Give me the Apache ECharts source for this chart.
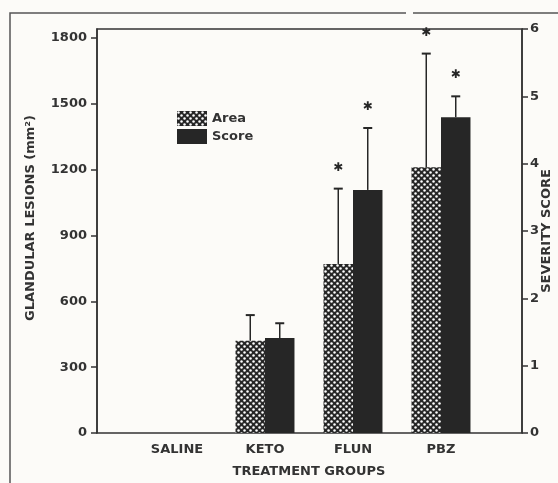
<!DOCTYPE html>
<html>
<head>
<meta charset="utf-8">
<script src="https://cdn.jsdelivr.net/npm/echarts@6/dist/echarts.min.js"></script>
<style>
  html, body { margin: 0; padding: 0; background: #fcfbf8; }
  #chart { width: 558px; height: 483px; }
</style>
</head>
<body>
<div id="chart"></div>
<script>
// values
const categories = ['SALINE', 'KETO', 'FLUN', 'PBZ'];
const areaMean = [0, 420, 770, 1210];
const areaErr = [0, 117, 343, 518];
const scoreMean = [0, 1.41, 3.61, 4.69];
const scoreErr = [0, 0.22, 0.92, 0.31];
const areaSig = [0, 0, 1, 1];
const scoreSig = [0, 0, 1, 1];
const leftMax = 1840;
const leftStep = 300;
const rightMax = 6;
const rightStep = 1;

const ink = '#262626';
const font = 'DejaVu Sans';
const catGap = 0.33;

// dotted crosshatch fill for the "Area" bars
function makeHatch() {
  const c = document.createElement('canvas');
  c.width = 6;
  c.height = 6;
  const ctx = c.getContext('2d');
  ctx.fillStyle = ink;
  ctx.fillRect(0, 0, 6, 6);
  ctx.fillStyle = '#fff';
  [[1.5, 1.5], [4.5, 4.5]].forEach(([x, y]) => {
    ctx.beginPath();
    ctx.arc(x, y, 1.25, 0, Math.PI * 2);
    ctx.fill();
  });
  return c;
}
const hatch = { image: makeHatch(), repeat: 'repeat' };

// upward error whisker + asterisk
function errorSeries(mean, err, sig, yIndex, side) {
  return {
    type: 'custom',
    xAxisIndex: 1,
    yAxisIndex: yIndex,
    z: 5,
    silent: true,
    data: mean.map((m, i) => [i, m, m + err[i], sig[i]]),
    encode: { x: 0, y: [1, 2] },
    renderItem(params, api) {
      const i = api.value(0);
      if (api.value(2) <= api.value(1)) return;
      const band = api.size([1, 0])[0];
      const bw = band * (1 - catGap) / 2;
      const base = api.coord([i, api.value(1)]);
      const top = api.coord([i, api.value(2)]);
      const x = base[0] + side * bw / 2;
      const children = [
        { type: 'line', shape: { x1: x, y1: base[1], x2: x, y2: top[1] }, style: { stroke: ink, lineWidth: 1.5 } },
        { type: 'line', shape: { x1: x - 4.5, y1: top[1], x2: x + 4.5, y2: top[1] }, style: { stroke: ink, lineWidth: 2 } }
      ];
      if (api.value(3)) {
        children.push({
          type: 'text',
          style: { text: '✱', x: x, y: top[1] - 21, fill: ink, font: 'bold 12px ' + font, align: 'center', verticalAlign: 'middle' }
        });
      }
      return { type: 'group', children };
    }
  };
}

const labelStyle = { color: '#333', fontFamily: font, fontWeight: 'bold', fontSize: 13 };
const nameStyle = Object.assign({ lineHeight: 13 }, labelStyle);
const axisInk = { color: '#333', width: 1.5 };

const chart = echarts.init(document.getElementById('chart'));
chart.setOption({
  backgroundColor: '#fcfbf8',
  animation: false,
  grid: [
    // plot frame, carries the visible y axes
    { left: 97, right: 36, top: 29, bottom: 50, outerBoundsContain: 'axisLabel',
      show: true, borderColor: '#333', borderWidth: 1.5, backgroundColor: 'transparent' },
    // data area (categories don't fill the frame)
    { left: 133, right: 73, top: 29, bottom: 50, outerBoundsContain: 'axisLabel' }
  ],
  legend: {
    orient: 'vertical',
    left: 172,
    top: 106,
    icon: 'rect',
    itemWidth: 30,
    itemHeight: 15,
    itemGap: 3,
    textStyle: { color: '#333', fontFamily: font, fontSize: 13, fontWeight: 'bold' },
    data: ['Area', 'Score']
  },
  xAxis: [
    { gridIndex: 0, type: 'value', show: false, min: 0, max: 1 },
    {
      gridIndex: 1,
      type: 'category',
      data: categories,
      axisLine: { show: false },
      axisTick: { show: false },
      axisLabel: Object.assign({ margin: 10 }, labelStyle),
      name: 'TREATMENT GROUPS',
      nameLocation: 'middle',
      nameGap: 32,
      nameMoveOverlap: false,
      nameTextStyle: nameStyle
    }
  ],
  yAxis: [
    // hidden scales the series are drawn against
    { gridIndex: 1, type: 'value', show: false, min: 0, max: leftMax, splitLine: { show: false } },
    { gridIndex: 1, type: 'value', show: false, min: 0, max: rightMax, splitLine: { show: false } },
    // visible axes on the frame
    {
      gridIndex: 0,
      type: 'value',
      position: 'left',
      min: 0,
      max: leftMax,
      interval: leftStep,
      splitLine: { show: false },
      axisLine: { show: true, lineStyle: axisInk },
      axisTick: { show: true, length: 6, lineStyle: axisInk },
      axisLabel: Object.assign({ margin: 10, showMaxLabel: false, formatter: v => String(v) }, labelStyle),
      name: 'GLANDULAR LESIONS (mm²)',
      nameLocation: 'middle',
      nameGap: 60,
      nameMoveOverlap: false,
      nameTextStyle: Object.assign({ padding: [0, 0, 0, 26] }, nameStyle)
    },
    {
      gridIndex: 0,
      type: 'value',
      position: 'right',
      min: 0,
      max: rightMax,
      interval: rightStep,
      splitLine: { show: false },
      axisLine: { show: true, lineStyle: axisInk },
      axisTick: { show: true, length: 6, lineStyle: axisInk },
      axisLabel: Object.assign({ margin: 8 }, labelStyle),
      name: 'SEVERITY SCORE',
      nameLocation: 'middle',
      nameGap: 18,
      nameMoveOverlap: false,
      nameTextStyle: nameStyle
    }
  ],
  graphic: [
    { type: 'polyline', shape: { points: [[10, 483], [10, 13], [406, 13]] }, style: { stroke: '#555', lineWidth: 1.5, fill: null } },
    { type: 'line', shape: { x1: 413, y1: 13, x2: 558, y2: 13 }, style: { stroke: '#555', lineWidth: 1.5 } }
  ],
  series: [
    {
      name: 'Area',
      type: 'bar',
      xAxisIndex: 1,
      yAxisIndex: 0,
      data: areaMean,
      barGap: '0%',
      barCategoryGap: (catGap * 100) + '%',
      itemStyle: { color: hatch }
    },
    {
      name: 'Score',
      type: 'bar',
      xAxisIndex: 1,
      yAxisIndex: 1,
      data: scoreMean,
      barGap: '0%',
      barCategoryGap: (catGap * 100) + '%',
      itemStyle: { color: ink }
    },
    errorSeries(areaMean, areaErr, areaSig, 0, -1),
    errorSeries(scoreMean, scoreErr, scoreSig, 1, 1)
  ]
});
</script>
</body>
</html>
